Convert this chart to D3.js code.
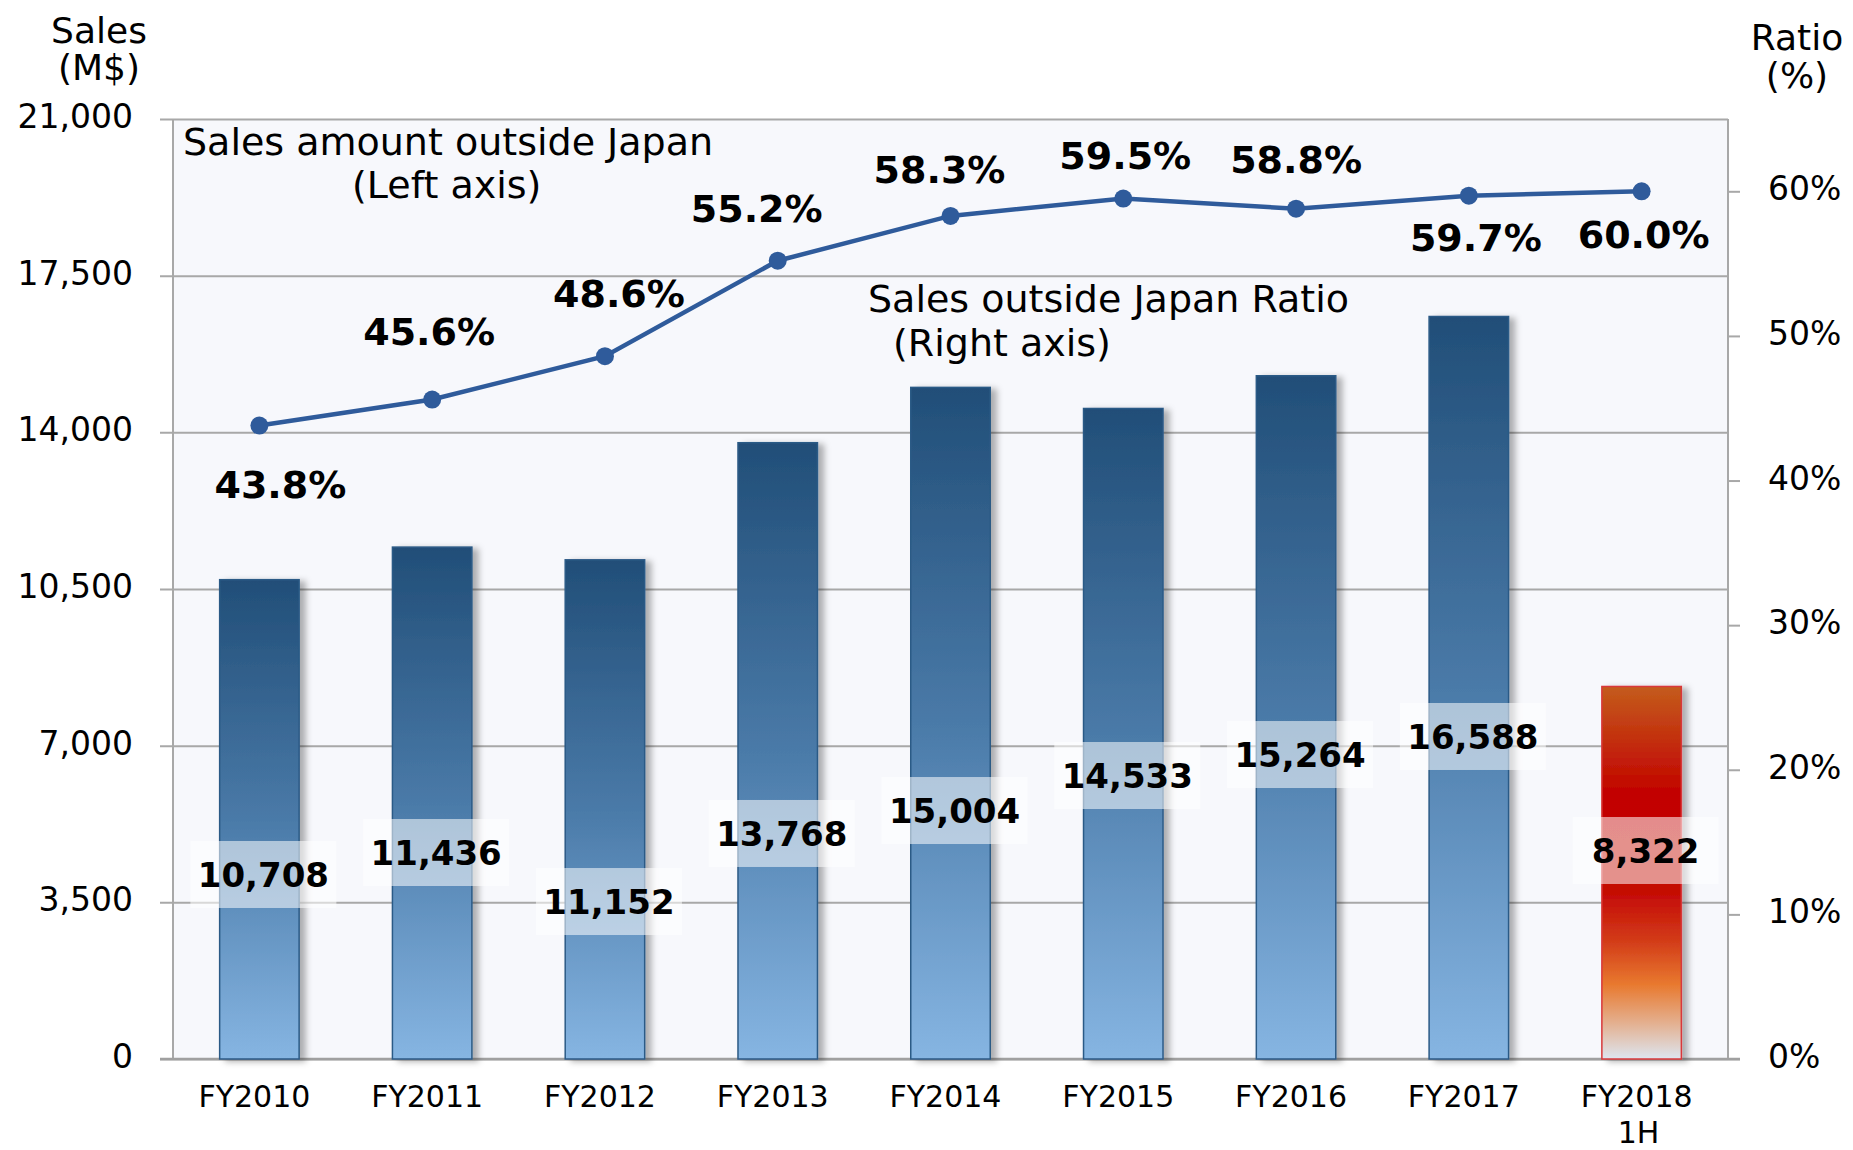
<!DOCTYPE html>
<html>
<head>
<meta charset="utf-8">
<script src="https://cdn.jsdelivr.net/npm/d3@7"></script>
<style>
  body { margin: 0; background: #fff; }
  text { font-family: "DejaVu Sans", Verdana, sans-serif; fill: #000; }
</style>
</head>
<body>
<div id="chart"></div>
<script>
const categories = ['FY2010', 'FY2011', 'FY2012', 'FY2013', 'FY2014', 'FY2015', 'FY2016', 'FY2017', 'FY2018\n1H'];
const sales = [10708, 11436, 11152, 13768, 15004, 14533, 15264, 16588, 8322];
const ratio = [43.8, 45.6, 48.6, 55.2, 58.3, 59.5, 58.8, 59.7, 60.0];
const salesTicks = [0, 3500, 7000, 10500, 14000, 17500, 21000];
const ratioTicks = [0, 10, 20, 30, 40, 50, 60];

// where the value boxes sit (left axis units) and label nudges for the ratio line
const valueLabelAt = [4111, 4602, 3507, 5027, 5540, 6322, 6791, 7194, 4647];
const ratioLabelNudge = [[21, 59], [-3, -68], [14, -63], [-21, -52], [-11, -47], [2, -43], [0, -49], [7, 42], [2, 43]];

const width = 1853, height = 1150;
const plot = { left: 173, right: 1728, top: 119, bottom: 1059 };

const svg = d3.select('#chart').append('svg')
  .attr('width', width)
  .attr('height', height);

const defs = svg.append('defs');
const blue = defs.append('linearGradient').attr('id', 'blue').attr('x1', 0).attr('y1', 0).attr('x2', 0).attr('y2', 1);
[[0, '#214e78'], [0.5, '#4a7aa8'], [1, '#86b5e2']].forEach(s => blue.append('stop').attr('offset', s[0]).attr('stop-color', s[1]));
const red = defs.append('linearGradient').attr('id', 'red').attr('x1', 0).attr('y1', 0).attr('x2', 0).attr('y2', 1);
[[0, '#c45c1c'], [0.28, '#c20400'], [0.55, '#c40a05'], [0.68, '#d23a18'], [0.8, '#e8792f'], [0.9, '#e4ae8c'], [1, '#dde6f0']]
  .forEach(s => red.append('stop').attr('offset', s[0]).attr('stop-color', s[1]));
defs.append('filter').attr('id', 'shadow').attr('x', '-20%').attr('width', '150%')
  .append('feDropShadow').attr('dx', 6).attr('dy', 2).attr('stdDeviation', 3)
  .attr('flood-color', '#000').attr('flood-opacity', 0.3);

const x = d3.scaleBand().domain(categories).range([plot.left, plot.right]).paddingInner(0.54).paddingOuter(0.27);
const y = d3.scaleLinear().domain([0, 21000]).range([plot.bottom, plot.top]);
const y2 = d3.scaleLinear().domain([0, 65]).range([plot.bottom, plot.top]);
const cx = d => x(d) + x.bandwidth() / 2;

// plot background
svg.append('rect')
  .attr('x', plot.left).attr('y', plot.top)
  .attr('width', plot.right - plot.left).attr('height', plot.bottom - plot.top)
  .attr('fill', '#f7f8fc');

// left axis with gridlines
const yAxis = svg.append('g')
  .attr('transform', `translate(${plot.right},0)`)
  .call(d3.axisLeft(y).tickValues(salesTicks).tickSize(plot.right - 160).tickPadding(27).tickFormat(d3.format(',')));
yAxis.select('.domain').remove();
yAxis.selectAll('line').attr('stroke', '#a8a8a8').attr('stroke-width', 2);
yAxis.selectAll('text').style('font-size', '33px').attr('dy', '0.26em');

// right axis
const y2Axis = svg.append('g')
  .attr('transform', `translate(${plot.right},0)`)
  .call(d3.axisRight(y2).tickValues(ratioTicks).tickSize(12).tickPadding(28).tickFormat(d => d + '%'));
y2Axis.select('.domain').remove();
y2Axis.selectAll('line').attr('stroke', '#a8a8a8').attr('stroke-width', 2);
y2Axis.selectAll('text').style('font-size', '33px').attr('dy', '0.26em');

svg.append('line').attr('x1', plot.left).attr('x2', plot.left).attr('y1', plot.top).attr('y2', plot.bottom).attr('stroke', '#a8a8a8').attr('stroke-width', 2);
svg.append('line').attr('x1', plot.right).attr('x2', plot.right).attr('y1', plot.top).attr('y2', plot.bottom).attr('stroke', '#a8a8a8').attr('stroke-width', 2);
svg.append('line').attr('x1', 160).attr('x2', 1740).attr('y1', plot.bottom).attr('y2', plot.bottom).attr('stroke', '#a0a0a0').attr('stroke-width', 2.5);

// bars
svg.append('g').selectAll('rect')
  .data(sales)
  .enter().append('rect')
  .attr('x', (d, i) => x(categories[i]))
  .attr('y', d => y(d))
  .attr('width', x.bandwidth())
  .attr('height', d => plot.bottom - y(d))
  .attr('fill', (d, i) => i === sales.length - 1 ? 'url(#red)' : 'url(#blue)')
  .attr('stroke', (d, i) => i === sales.length - 1 ? '#d8383a' : '#2c5a86')
  .attr('stroke-width', 1.5)
  .attr('filter', 'url(#shadow)');

// x labels (second line as its own text so the two lines do not overlap)
categories.forEach(d => {
  d.split('\n').forEach((t, j) => {
    svg.append('text')
      .attr('text-anchor', 'middle')
      .attr('x', cx(d) - 5 + (j ? 2 : 0))
      .attr('y', j ? 1142.5 : 1107)
      .style('font-size', '30px')
      .text(t);
  });
});

// value labels with translucent boxes
const vl = svg.append('g').selectAll('g')
  .data(sales)
  .enter().append('g')
  .attr('transform', (d, i) => `translate(${cx(categories[i]) + 4},${y(valueLabelAt[i])})`);
vl.append('rect')
  .attr('x', -73).attr('y', -34)
  .attr('width', 146).attr('height', 67)
  .attr('fill', '#fff').attr('fill-opacity', 0.55);
vl.append('text')
  .attr('text-anchor', 'middle')
  .attr('dy', '0.36em')
  .style('font-size', '34px')
  .style('font-weight', 'bold')
  .text(d => d3.format(',')(d));

// ratio line
const line = d3.line().x((d, i) => cx(categories[i])).y(d => y2(d));
svg.append('path')
  .datum(ratio)
  .attr('d', line)
  .attr('fill', 'none')
  .attr('stroke', '#2f5b9b')
  .attr('stroke-width', 4.5);
svg.append('g').selectAll('circle')
  .data(ratio)
  .enter().append('circle')
  .attr('cx', (d, i) => cx(categories[i]))
  .attr('cy', d => y2(d))
  .attr('r', 9)
  .attr('fill', '#2f5b9b');
svg.append('g').selectAll('text')
  .data(ratio)
  .enter().append('text')
  .attr('text-anchor', 'middle')
  .attr('x', (d, i) => cx(categories[i]) + ratioLabelNudge[i][0])
  .attr('y', (d, i) => y2(d) + ratioLabelNudge[i][1])
  .attr('dy', '0.36em')
  .style('font-size', '38px')
  .style('font-weight', 'bold')
  .text(d => d.toFixed(1) + '%');

// series notes
const note = lines => lines.forEach(l => svg.append('text')
  .attr('x', l[0]).attr('y', l[1]).style('font-size', '38px').text(l[2]));
note([[183, 155, 'Sales amount outside Japan'], [352, 198, '(Left axis)']]);
note([[868, 312, 'Sales outside Japan Ratio'], [893, 356, '(Right axis)']]);

// axis titles
const title = (xPos, lines) => lines.forEach(l => svg.append('text')
  .attr('x', xPos).attr('y', l[0]).attr('text-anchor', 'middle').style('font-size', '36px').text(l[1]));
title(99, [[43, 'Sales'], [80, '(M$)']]);
title(1797, [[50, 'Ratio'], [88, '(%)']]);
</script>
</body>
</html>
